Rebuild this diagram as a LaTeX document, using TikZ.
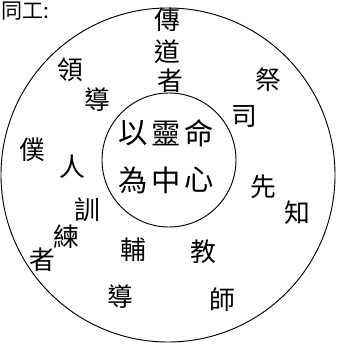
\documentclass[tikz,border=0pt]{standalone}
\usepackage{fontspec}
\newfontfamily\cjk{Noto Sans CJK TC}
\usepackage{tikz}

\begin{document}
\begin{tikzpicture}[x=0.03cm, y=-0.03cm]
        \useasboundingbox (0, 0) rectangle (336, 345);
        \tikzset{ring/.style={font = {\cjk\fontsize{22}{22}\selectfont}, black, inner sep=0pt},
                 core/.style={font = {\cjk\fontsize{25}{25}\selectfont}, black, inner sep=0pt}}
        \draw[line width=0.8pt, black] (168, 175) circle (5.01cm);
        \draw[line width=0.8pt, black] (169, 160) circle (2.01cm);
        \node[font = {\cjk\fontsize{18}{18}\selectfont}, black, anchor=north west, inner sep=1pt] (title) at (0, 0) {同工:};
        % center
        \node[core] (yi) at (133, 133) {以};
        \node[core] (ling) at (166, 133) {靈};
        \node[core] (ming) at (199, 133) {命};
        \node[core] (wei) at (133, 180) {為};
        \node[core] (zhong) at (166, 180) {中};
        \node[core] (xin) at (199, 180) {心};
        % ring
        \node[ring] (chuan) at (167, 20) {傳};
        \node[ring] (dao) at (167, 52) {道};
        \node[ring] (zhe) at (170, 81) {者};
        \node[ring] (ji) at (268, 80) {祭};
        \node[ring] (si) at (244, 116) {司};
        \node[ring] (xian) at (263, 187) {先};
        \node[ring] (zhi) at (297, 213) {知};
        \node[ring] (jiao) at (203, 252) {教};
        \node[ring] (shi) at (222, 300) {師};
        \node[ring] (fu) at (133, 250) {輔};
        \node[ring] (dao2) at (120, 297) {導};
        \node[ring] (xun) at (87, 210) {訓};
        \node[ring] (lian) at (66, 237) {練};
        \node[ring] (zhe2) at (42, 260) {者};
        \node[ring] (pu) at (32, 150) {僕};
        \node[ring] (ren) at (72, 167) {人};
        \node[ring] (ling2) at (70, 70) {領};
        \node[ring] (dao3) at (97, 100) {導};
    \end{tikzpicture}
\end{document}
